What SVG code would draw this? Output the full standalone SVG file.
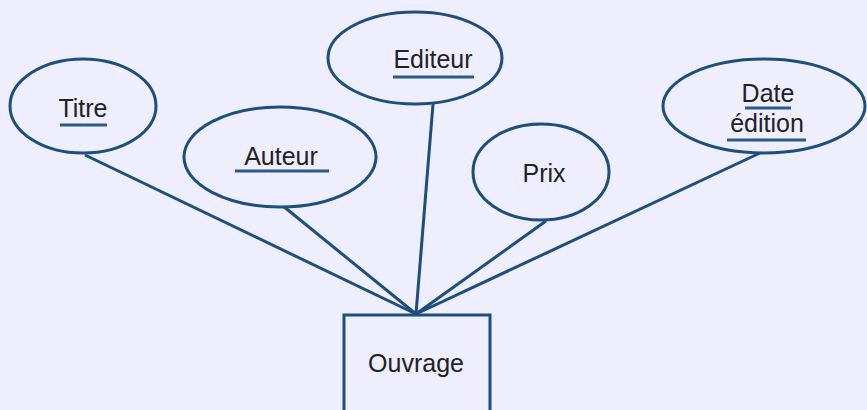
<svg xmlns="http://www.w3.org/2000/svg" width="867" height="410" viewBox="0 0 867 410">
<style>
.shape{fill:#eeeeff;stroke:#1d4f7c;stroke-width:3}
.conn{stroke:#1d4f7c;stroke-width:3;fill:none}
.ul{stroke:#2a5a8a;stroke-width:3}
text{font-family:"Liberation Sans",Arial,sans-serif;font-size:25px;fill:#222;text-anchor:middle}
</style>
<rect width="867" height="410" fill="#eeeeff"/>
<g id="connectors">
<line class="conn" x1="85" y1="155" x2="416" y2="314"/>
<line class="conn" x1="283" y1="206" x2="416" y2="314"/>
<line class="conn" x1="433" y1="104" x2="416" y2="314"/>
<line class="conn" x1="546" y1="221" x2="416" y2="314"/>
<line class="conn" x1="760" y1="153" x2="416" y2="314"/>
</g>
<g id="titre">
<ellipse class="shape" cx="83" cy="106" rx="73" ry="47"/>
<text x="83" y="117">Titre</text>
<line class="ul" x1="60" y1="125" x2="107" y2="125"/>
</g>
<g id="auteur">
<ellipse class="shape" cx="280" cy="157" rx="96" ry="50"/>
<text x="281" y="165">Auteur</text>
<line class="ul" x1="235" y1="171" x2="329" y2="171"/>
</g>
<g id="editeur">
<ellipse class="shape" cx="415" cy="58" rx="87" ry="46"/>
<text x="433" y="68">Editeur</text>
<line class="ul" x1="393" y1="77" x2="474" y2="77"/>
</g>
<g id="prix">
<ellipse class="shape" cx="541" cy="172" rx="68" ry="48"/>
<text x="544" y="182">Prix</text>
</g>
<g id="date">
<ellipse class="shape" cx="764" cy="106" rx="101" ry="47"/>
<text x="768" y="102">Date</text>
<line class="ul" x1="745" y1="108" x2="791" y2="108"/>
<text x="767" y="132">édition</text>
<line class="ul" x1="727" y1="140" x2="806" y2="140"/>
</g>
<g id="ouvrage">
<rect class="shape" x="344" y="315" width="146" height="110"/>
<text x="416" y="372">Ouvrage</text>
</g>
</svg>
